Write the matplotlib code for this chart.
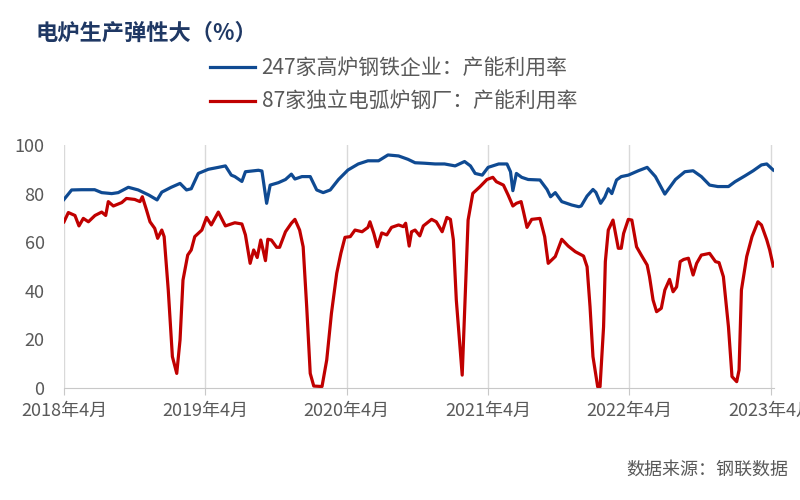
import matplotlib
matplotlib.use("Agg")
import matplotlib.pyplot as plt

plt.rcParams['font.family'] = ['Noto Sans CJK SC', 'DejaVu Sans']

# months since 2018-04
blast_m = [0, 0.65, 1.5, 2.6, 3.2, 4.05, 4.6, 5.46, 6.3, 7.2, 7.9, 8.3, 9.1, 9.85,
           10.4, 10.8, 11.4, 12.25, 13.1, 13.7, 14.2, 14.5, 15.1, 15.4, 16.5, 16.8,
           17.2, 17.5, 18.2, 18.8, 19.3, 19.6, 20.2, 20.9, 21.45, 22.0, 22.6, 23.3,
           24.1, 24.98, 25.8, 26.7, 27.5, 28.4, 29.2, 29.8, 30.6, 31.5, 32.3, 33.2,
           34.0, 34.5, 34.9, 35.5, 36.0, 36.9, 37.6, 37.9, 38.1, 38.4, 38.85, 39.4,
           40.4, 41.0, 41.3, 41.7, 42.25, 43.1, 43.7, 43.9, 44.4, 44.9, 45.15, 45.55,
           45.9, 46.2, 46.5, 46.9, 47.3, 47.9, 48.75, 49.5, 50.2, 51.0, 51.9, 52.7,
           53.4, 54.1, 54.8, 55.5, 56.4, 56.96, 57.8, 58.5, 59.2, 59.65, 60.2]
blast_v = [77.6, 81.5, 81.6, 81.6, 80.4, 80.0, 80.4, 82.6, 81.5, 79.4, 77.4, 80.6, 82.6, 84.2,
           81.5, 82.0, 88.3, 90.0, 90.8, 91.4, 87.6, 87.0, 85.0, 89.0, 89.6, 89.3,
           76.0, 83.5, 84.5, 85.8, 88.0, 86.0, 87.0, 87.0, 81.5, 80.4, 81.5, 85.8,
           89.7, 92.2, 93.5, 93.5, 95.9, 95.5, 94.1, 92.7, 92.5, 92.2, 92.2, 91.4,
           93.2, 91.4, 88.3, 87.6, 90.8, 92.2, 92.2, 89.0, 81.2, 88.3, 86.7, 85.8,
           85.6, 81.7, 78.7, 80.4, 76.7, 75.3, 74.6, 74.9, 79.0, 81.7, 80.5, 76.0,
           78.5, 82.0, 80.0, 85.6, 87.0, 87.6, 89.4, 90.8, 87.0, 79.8, 85.8, 89.0,
           89.4, 87.0, 83.5, 82.9, 82.9, 84.9, 87.3, 89.4, 91.8, 92.2, 89.7]

eaf_m = [0, 0.37, 0.93, 1.27, 1.64, 2.07, 2.63, 3.2, 3.54, 3.76, 4.19, 4.9, 5.3, 6.0,
         6.45, 6.65, 7.0, 7.3, 7.7, 7.95, 8.3, 8.5, 8.85, 9.2, 9.57, 9.85, 10.1, 10.5,
         10.8, 11.1, 11.7, 12.1, 12.5, 13.1, 13.7, 14.5, 15.1, 15.4, 15.8, 16.1, 16.4,
         16.7, 16.9, 17.1, 17.3, 17.6, 18.05, 18.3, 18.8, 19.3, 19.6, 20.0, 20.3, 20.6,
         20.9, 21.2, 21.9, 22.3, 22.7, 23.15, 23.5, 23.85, 24.3, 24.7, 25.3, 25.8, 25.97,
         26.3, 26.6, 26.97, 27.4, 27.8, 28.4, 28.8, 29.0, 29.3, 29.5, 29.8, 30.2, 30.5,
         31.2, 31.6, 32.1, 32.5, 32.8, 33.05, 33.3, 33.8, 34.3, 34.7, 35.3, 35.9, 36.4,
         36.7, 37.3, 37.7, 38.1, 38.4, 38.8, 39.0, 39.3, 39.7, 40.4, 40.8, 41.1, 41.7,
         42.25, 42.8, 43.4, 44.1, 44.4, 44.65, 44.9, 45.3, 45.5, 45.8, 45.95, 46.2, 46.6,
         47.05, 47.3, 47.5, 47.9, 48.2, 48.6, 49.0, 49.5, 49.7, 50.0, 50.3, 50.7, 51.0,
         51.4, 51.7, 52.0, 52.3, 52.6, 53.0, 53.4, 53.7, 54.1, 54.8, 55.3, 55.6, 55.97,
         56.4, 56.7, 57.1, 57.3, 57.5, 57.95, 58.4, 58.9, 59.2, 59.65, 59.9, 60.2]
eaf_v = [68.4, 72.2, 71.0, 66.7, 69.8, 68.4, 71.0, 72.4, 71.0, 76.7, 74.9, 76.3, 78.0, 77.6,
         76.7, 78.7, 73.3, 68.4, 65.7, 61.6, 65.0, 62.3, 40.3, 12.9, 6.0, 19.8, 44.4, 54.7,
         56.8, 62.3, 65.0, 70.2, 67.1, 72.4, 66.7, 68.0, 67.5, 63.0, 51.3, 56.8, 53.7,
         60.9, 56.8, 52.4, 61.2, 60.9, 57.9, 57.9, 64.3, 67.8, 69.4, 65.0, 58.1, 33.5,
         6.0, 0.8, 0.6, 11.5, 30.7, 47.2, 55.4, 62.0, 62.3, 65.0, 64.3, 66.1, 68.4,
         63.6, 58.1, 63.8, 63.0, 66.1, 67.1, 66.4, 67.8, 58.4, 64.3, 65.0, 62.6, 66.7,
         69.4, 68.4, 64.3, 70.2, 69.4, 61.0, 36.2, 5.3, 69.1, 80.1, 82.8, 85.8, 86.7,
         84.9, 83.5, 79.4, 74.9, 76.0, 76.7, 72.6, 66.1, 69.4, 69.8, 62.3, 51.3, 54.1,
         61.2, 58.4, 56.1, 54.3, 49.9, 33.5, 12.9, 0.5, 0.5, 25.2, 52.0, 65.0, 69.1,
         57.5, 57.5, 63.6, 69.4, 69.1, 58.1, 54.7, 50.6, 45.8, 36.2, 31.4, 32.8, 40.3,
         44.7, 39.6, 41.6, 52.0, 52.9, 53.4, 46.5, 51.3, 54.7, 55.4, 52.0, 51.6, 45.8,
         25.2, 4.7, 2.6, 7.4, 40.3, 54.1, 62.3, 68.4, 67.1, 61.0, 56.8, 50.2]

year_ticks = [0, 12, 24, 36, 48, 60]
year_labels = ["2018年4月", "2019年4月", "2020年4月", "2021年4月", "2022年4月", "2023年4月"]

fig = plt.figure(figsize=(8, 5), dpi=100)
ax = fig.add_axes([0.08, 0.224, 0.888, 0.486])

l1, = ax.plot(blast_m, blast_v, color="#0F4A92", lw=2.3,
              label="247家高炉钢铁企业：产能利用率")
l2, = ax.plot(eaf_m, eaf_v, color="#C00000", lw=2.3,
              label="87家独立电弧炉钢厂：产能利用率")

ax.set_xlim(0, 60.3)
ax.set_ylim(0, 100)
ax.set_yticks([0, 20, 40, 60, 80, 100])
ax.set_xticks(year_ticks)
ax.set_xticklabels(year_labels)
ax.grid(axis="x", color="#D9D9D9", lw=1)
ax.set_axisbelow(True)
for s in ["top", "right", "left"]:
    ax.spines[s].set_visible(False)
ax.spines["bottom"].set_color("#C8C8C8")
ax.tick_params(axis="x", length=5, color="#C8C8C8", pad=5, labelsize=13, labelcolor="#595959")
ax.tick_params(axis="y", length=0, pad=14, labelsize=13, labelcolor="#595959")

fig.text(0.044, 0.934, "电炉生产弹性大（%）", fontsize=16, fontweight="bold",
         color="#1F3864", va="center", ha="left")

fig.legend(handles=[l1, l2], loc="upper left", bbox_to_anchor=(0.262, 0.885),
           frameon=False, fontsize=15, handlelength=2.2, handletextpad=0.3,
           labelspacing=0.55, borderpad=0, borderaxespad=0, labelcolor="#595959")

fig.text(0.985, 0.06, "数据来源：钢联数据", fontsize=13, color="#595959",
         ha="right", va="center")

fig.savefig("out.png", dpi=100)
